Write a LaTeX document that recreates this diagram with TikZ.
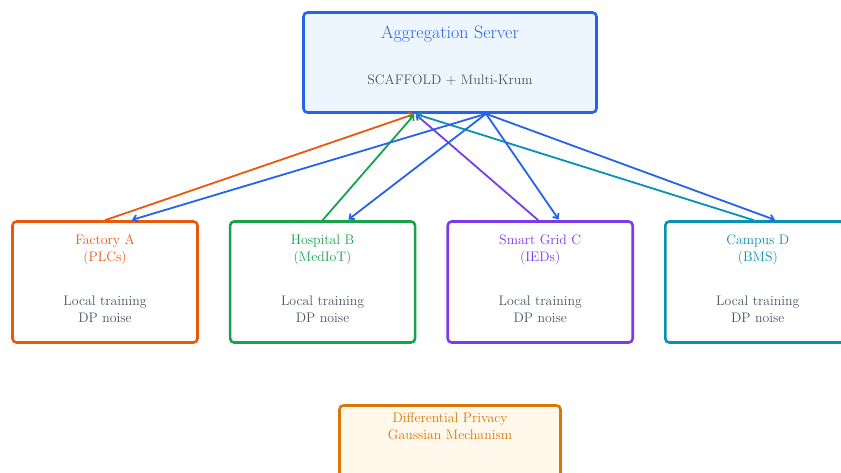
\documentclass[tikz,border=0pt]{standalone}
\usepackage{fontspec}
\usetikzlibrary{positioning,arrows.meta,calc}

\definecolor{srvBlue}{HTML}{2563EB}
\definecolor{srvFill}{HTML}{EDF5FF}
\definecolor{txtGray}{HTML}{4B5563}
\definecolor{facOrange}{HTML}{EA580C}
\definecolor{hosGreen}{HTML}{16A34A}
\definecolor{gridPurple}{HTML}{7C3AED}
\definecolor{campTeal}{HTML}{0891B2}
\definecolor{dpAmber}{HTML}{D97706}
\definecolor{dpFill}{HTML}{FFF8EB}

\begin{document}
\begin{tikzpicture}[
      x=1pt, y=-1pt,
      >={Straight Barb[length=4pt,width=7pt]}
    ]
    \useasboundingbox (0,0) rectangle (841,472);

    \tikzstyle{box} = [rectangle, rounded corners=4pt, line width=2.6pt, inner sep=0pt]
    \tikzstyle{client} = [box, minimum width=185pt, minimum height=121pt, fill=white]
    \tikzstyle{label} = [align=center, font=\fontsize{13.8}{17}\selectfont]
    \tikzstyle{up} = [->, line width=1.8pt, shorten >=1pt]
    \tikzstyle{down} = [->, line width=1.8pt, draw=srvBlue, shorten >=1pt]

    % server
    \node [box, draw=srvBlue, fill=srvFill, minimum width=293pt, minimum height=100pt] (server) at (450,62.5) {};
    \node [label, text=srvBlue, font=\fontsize{18}{22}\selectfont] (serverTitle) at ($(server.north)+(0,23)$) {Aggregation Server};
    \node [label, text=txtGray] (serverAlgo) at ($(server.north)+(0,69)$) {SCAFFOLD + Multi-Krum};

    % clients
    \node [client, draw=facOrange] (factoryA) at (105,282) {};
    \node [client, draw=hosGreen]  (hospitalB) [right=30pt of factoryA] {};
    \node [client, draw=gridPurple] (gridC) [right=30pt of hospitalB] {};
    \node [client, draw=campTeal]  (campusD) [right=30pt of gridC] {};

    \node [label, text=facOrange]  (factoryTitle)  at ($(factoryA.north)+(0,29.5)$) {Factory A\\(PLCs)};
    \node [label, text=hosGreen]   (hospitalTitle) at ($(hospitalB.north)+(0,29.5)$) {Hospital B\\(MedIoT)};
    \node [label, text=gridPurple] (gridTitle)     at ($(gridC.north)+(0,29.5)$) {Smart Grid C\\(IEDs)};
    \node [label, text=campTeal]   (campusTitle)   at ($(campusD.north)+(0,29.5)$) {Campus D\\(BMS)};

    \node [label, text=txtGray] (factoryBody)  at ($(factoryA.north)+(0,89.5)$) {Local training\\DP noise};
    \node [label, text=txtGray] (hospitalBody) at ($(hospitalB.north)+(0,89.5)$) {Local training\\DP noise};
    \node [label, text=txtGray] (gridBody)     at ($(gridC.north)+(0,89.5)$) {Local training\\DP noise};
    \node [label, text=txtGray] (campusBody)   at ($(campusD.north)+(0,89.5)$) {Local training\\DP noise};

    % differential privacy
    \node [box, draw=dpAmber, fill=dpFill, minimum width=221pt, minimum height=100pt] (dpBox) at (450,455.5) {};
    \node [label, text=dpAmber] (dpTitle) at ($(dpBox.north)+(0,22)$) {Differential Privacy\\Gaussian Mechanism};

    % connection points
    \coordinate (upIn) at ($(server.south)+(-35,0)$);
    \coordinate (downOut) at ($(server.south)+(36,0)$);

    % uploads
    \draw [up, draw=facOrange]  (factoryA.north) -- (upIn);
    \draw [up, draw=hosGreen]   (hospitalB.north) -- (upIn);
    \draw [up, draw=gridPurple] ($(gridC.north)+(-2,0)$) -- (upIn);
    \draw [up, draw=campTeal]   ($(campusD.north)+(-4,0)$) -- (upIn);

    % downloads
    \draw [down] (downOut) -- ($(factoryA.north)+(26,0)$);
    \draw [down] (downOut) -- ($(hospitalB.north)+(25,0)$);
    \draw [down] (downOut) -- ($(gridC.north)+(19,0)$);
    \draw [down] (downOut) -- ($(campusD.north)+(18,0)$);

\end{tikzpicture}
\end{document}
